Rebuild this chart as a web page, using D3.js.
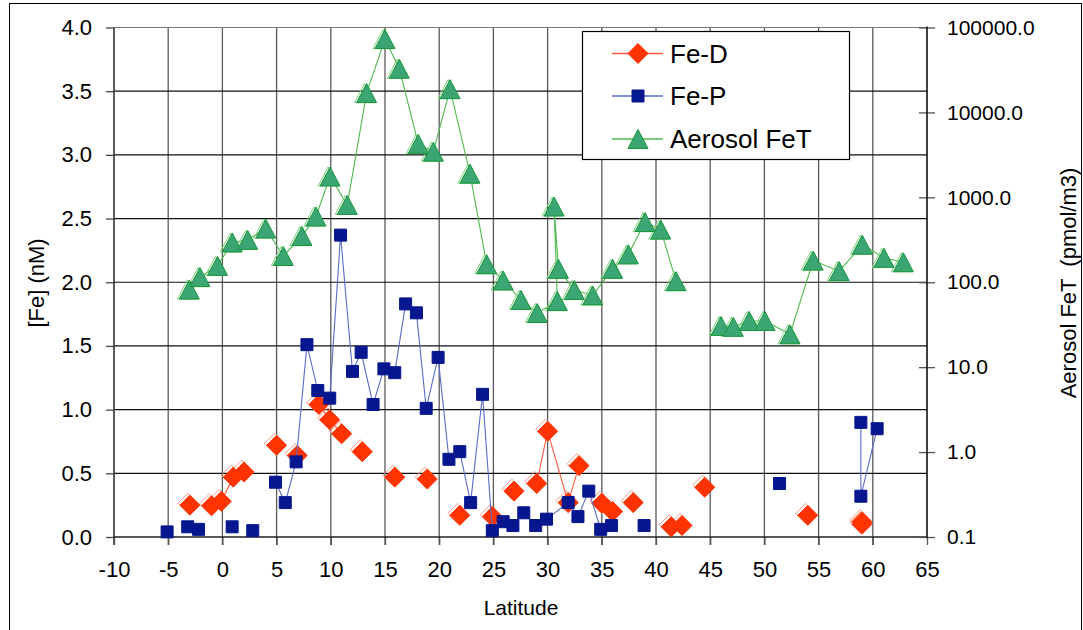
<!DOCTYPE html>
<html>
<head>
<meta charset="utf-8">
<script src="https://cdn.jsdelivr.net/npm/d3@7/dist/d3.min.js"></script>
<style>
  html, body { margin: 0; padding: 0; background: #fff; }
  svg { display: block; font-family: "Liberation Sans", Arial, sans-serif; }
</style>
</head>
<body>
<svg id="chart" width="1083" height="630"></svg>
<script>
// Dissolved iron (Fe-D), particulate iron (Fe-P) and aerosol total iron vs latitude.
// null entries mark gaps where the connecting line is broken.
const feDLat = [-3.0, null, -1.0, -0.1, 1.0, 2.0, null, 5.0, null, 6.9, null, 8.9, 9.9, 11.0, null,
  12.9, null, 15.9, null, 18.9, null, 21.9, null, 24.9, null, 26.9, null, 29.0, 30.0, 31.9, 32.9, null,
  35.0, 36.0, null, 37.9, null, 41.4, 42.4, null, 44.5, null, 54.0, null, 59.0, 59.0];
const feDVal = [0.25, null, 0.245, 0.28, 0.47, 0.51, null, 0.72, null, 0.64, null, 1.04, 0.92, 0.81, null,
  0.67, null, 0.47, null, 0.455, null, 0.17, null, 0.16, null, 0.36, null, 0.42, 0.83, 0.27, 0.56, null,
  0.265, 0.20, null, 0.27, null, 0.08, 0.09, null, 0.39, null, 0.17, null, 0.10, 0.12];

const fePLat = [-5.1, null, -3.2, -2.2, null, 0.9, null, 2.8, null, 4.9, 5.8, 6.8, 7.8, 8.8, 9.9, 10.9,
  12.0, 12.8, 13.9, 14.9, 15.9, 16.9, 17.9, 18.8, 19.9, 20.9, 21.9, 22.9, 24.0, 24.9, 25.9, 26.8, 27.8,
  28.9, 29.9, 31.9, 32.8, 33.8, 34.9, 35.9, null, 38.9, null, 51.4, null, 58.9, 58.9, 60.4];
const fePVal = [0.04, null, 0.08, 0.06, null, 0.08, null, 0.05, null, 0.43, 0.27, 0.59, 1.51, 1.15, 1.09, 2.37,
  1.30, 1.45, 1.04, 1.32, 1.29, 1.83, 1.76, 1.01, 1.41, 0.61, 0.67, 0.27, 1.12, 0.05, 0.12, 0.09, 0.19,
  0.09, 0.14, 0.27, 0.16, 0.36, 0.06, 0.09, null, 0.09, null, 0.42, null, 0.90, 0.32, 0.85];

const aerLat = [-3.05, -2.07, -0.45, 0.91, 2.33, 4.0, 5.62, 7.34, 8.63, 9.93, 11.52, 13.3, 15.0, 16.32,
  18.07, 19.46, 21.0, 22.84, 24.38, 25.9, 27.55, 29.05, 30.9, 30.6, 31.0, 32.46, 34.16, 36.0, 37.45,
  38.99, 40.44, 41.85, null, 46.0, 47.13, 48.6, 50.05, 52.36, 54.5, 56.9, 59.03, 61.03, 62.82];
const aerVal = [82, 115, 156, 294, 316, 429, 204, 350, 594, 1760, 815, 16900, 73100, 32700,
  4260, 3450, 18800, 1900, 163, 105, 62, 43.5, 60, 780, 144, 81, 70, 144, 213,
  511, 417, 103, null, 30.6, 29.9, 35, 35, 24.4, 180, 135, 277, 194, 172];

const xTicks = d3.range(-10, 66, 5);
const yLeftTicks = d3.range(0, 4.01, 0.5);
const yRightTicks = [0.1, 1, 10, 100, 1000, 10000, 100000];
const seriesNames = ["Fe-D", "Fe-P", "Aerosol FeT"];

const zip = (xs, vs) => xs.map((x, i) => ({ x, v: vs[i] }));
const feD = zip(feDLat, feDVal);
const feP = zip(fePLat, fePVal);
const aer = zip(aerLat, aerVal);

const svg = d3.select("#chart");
const L = 114, R = 927, T = 27.5, B = 537;

const x = d3.scaleLinear().domain([-10, 65]).range([L, R]);
const yL = d3.scaleLinear().domain([0, 4]).range([B, T]);
const yR = d3.scaleLog().domain([0.1, 100000]).range([B, T]);

// outer frame
svg.append("rect").attr("x", 9.5).attr("y", 3.5).attr("width", 1072).attr("height", 700)
  .attr("fill", "none").attr("stroke", "#000").attr("stroke-width", 1);

// grid
const grid = svg.append("g");
grid.selectAll("line.v").data(xTicks.filter(d => d > -10 && d < 65)).join("line")
  .attr("x1", d => x(d)).attr("x2", d => x(d)).attr("y1", T).attr("y2", B + 8)
  .attr("stroke", "#5a5a5a").attr("stroke-width", 1.3);
grid.selectAll("line.h").data(yLeftTicks.filter(d => d > 0)).join("line")
  .attr("x1", L).attr("x2", R).attr("y1", d => yL(d)).attr("y2", d => yL(d))
  .attr("stroke", d => d === 4 ? "#777" : "#111").attr("stroke-width", 1.2);

const fontFam = "'Liberation Sans', Arial, sans-serif";

// left axis
const gL = svg.append("g").attr("transform", `translate(${L},0)`)
  .call(d3.axisLeft(yL).tickValues(yLeftTicks).tickFormat(d3.format(".1f")).tickSize(8).tickPadding(14));
gL.select(".domain").remove();
gL.selectAll(".tick line").attr("stroke", "#444").attr("stroke-width", 1.3);
gL.selectAll("text").attr("font-size", 22).attr("fill", "#000").attr("font-family", fontFam);
svg.append("line").attr("x1", L).attr("x2", L).attr("y1", T).attr("y2", B + 8)
  .attr("stroke", "#333").attr("stroke-width", 1.6);

// bottom axis (plain hyphen for negatives)
const gB = svg.append("g").attr("transform", `translate(0,${B})`)
  .call(d3.axisBottom(x).tickValues(xTicks).tickFormat(d => String(d)).tickSize(8).tickPadding(16));
gB.select(".domain").remove();
gB.selectAll(".tick line").attr("stroke", "#555").attr("stroke-width", 1.3);
gB.selectAll("text").attr("font-size", 22).attr("fill", "#000").attr("font-family", fontFam);
svg.append("line").attr("x1", L).attr("x2", R).attr("y1", B).attr("y2", B)
  .attr("stroke", "#222").attr("stroke-width", 1.6);

// right (log) axis
const gR = svg.append("g").attr("transform", `translate(${R},0)`)
  .call(d3.axisRight(yR).tickValues(yRightTicks).tickFormat(d3.format(".1f")).tickSize(8).tickPadding(12));
gR.select(".domain").remove();
gR.selectAll(".tick line").attr("x1", -8).attr("stroke", "#555").attr("stroke-width", 1.3);
gR.selectAll("text").attr("font-size", 21).attr("fill", "#000").attr("font-family", fontFam);
svg.append("line").attr("x1", R).attr("x2", R).attr("y1", T - 1).attr("y2", B + 1)
  .attr("stroke", "#111").attr("stroke-width", 1.6);

// axis titles
svg.append("text").attr("x", 521).attr("y", 615).attr("text-anchor", "middle")
  .attr("font-size", 21).text("Latitude");
svg.append("text").attr("transform", "translate(44,283) rotate(-90)").attr("text-anchor", "middle")
  .attr("font-size", 22).text("[Fe] (nM)");
svg.append("text").attr("transform", "translate(1076,283) rotate(-90)").attr("text-anchor", "middle")
  .attr("font-size", 22).style("white-space", "pre").text("Aerosol FeT  (pmol/m3)");

// marker shapes
const diamond = s => `M0,${-s}L${s},0L0,${s}L${-s},0Z`;
const square = s => `M${-s},${-s}H${s}V${s}H${-s}Z`;
const triangle = (w, h) => `M0,${-h / 2}L${w / 2},${h / 2}L${-w / 2},${h / 2}Z`;

const styles = [
  { data: feD, y: yL, line: "#ff5a3c", fill: "#ff3300", stroke: "#ff3300", ghost: "#ff9a86", path: diamond(10), gdx: -2, gdy: -2 },
  { data: feP, y: yL, line: "#5b6cc9", fill: "#06168f", stroke: "#06168f", ghost: null, path: square(6) },
  { data: aer, y: yR, line: "#4fb84f", fill: "#3ba673", stroke: "#17963a", ghost: "#7fd07f", path: triangle(20, 19), gdx: -2, gdy: 0 }
];

styles.forEach(s => {
  const g = svg.append("g");
  const line = d3.line().defined(d => d.v != null).x(d => x(d.x)).y(d => s.y(d.v));
  g.append("path").datum(s.data).attr("d", line).attr("fill", "none")
    .attr("stroke", s.line).attr("stroke-width", 1.1);
  const pts = s.data.filter(d => d.v != null);
  if (s.ghost) {
    g.selectAll("path.ghost").data(pts).join("path").attr("class", "ghost")
      .attr("d", s.path)
      .attr("transform", d => `translate(${x(d.x) + s.gdx},${s.y(d.v) + s.gdy})`)
      .attr("fill", "none").attr("stroke", s.ghost).attr("stroke-width", 1);
  }
  g.selectAll("path.mark").data(pts).join("path").attr("class", "mark")
    .attr("d", s.path)
    .attr("transform", d => `translate(${x(d.x)},${s.y(d.v)})`)
    .attr("fill", s.fill).attr("stroke", s.stroke).attr("stroke-width", 1);
});

// legend
const lg = svg.append("g");
lg.append("rect").attr("x", 582.5).attr("y", 31.5).attr("width", 267).attr("height", 128)
  .attr("fill", "#fff").attr("stroke", "#000").attr("stroke-width", 1.2);
const legendY = [53.5, 96, 139];
seriesNames.forEach((name, i) => {
  const s = styles[i];
  const cy = legendY[i];
  lg.append("line").attr("x1", 612).attr("x2", 663).attr("y1", cy).attr("y2", cy)
    .attr("stroke", s.line).attr("stroke-width", 1.3);
  lg.append("path").attr("d", s.path).attr("transform", `translate(638,${cy})`)
    .attr("fill", s.fill).attr("stroke", s.stroke);
  lg.append("text").attr("x", 670).attr("y", cy).attr("dy", "0.36em")
    .attr("font-size", 26).attr("fill", "#000").text(name);
});
</script>
</body>
</html>
